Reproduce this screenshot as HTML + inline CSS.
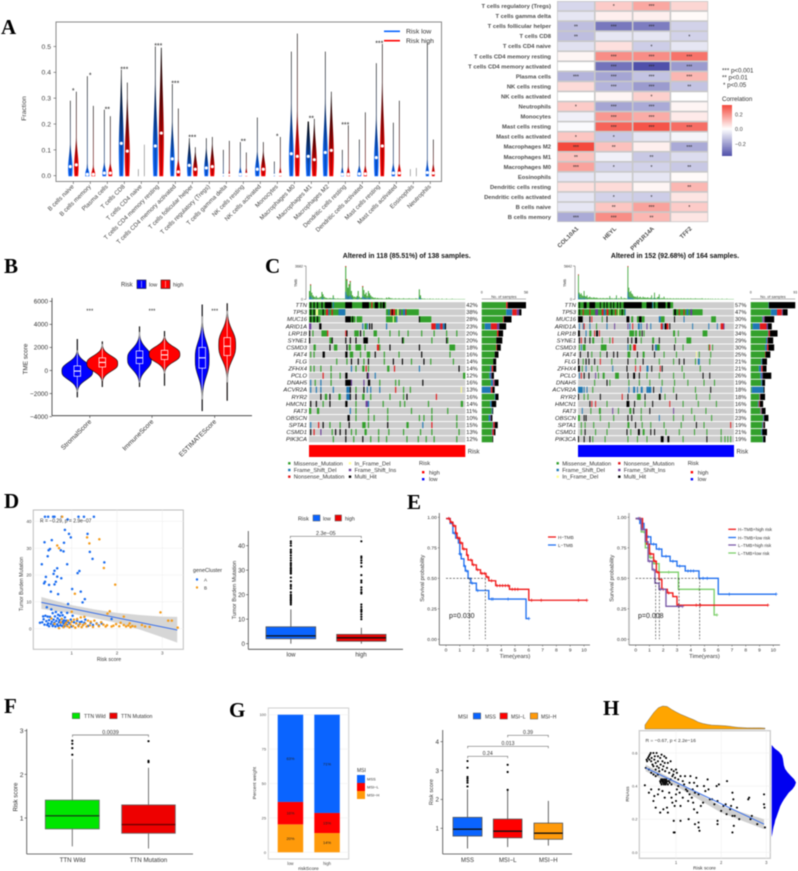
<!DOCTYPE html>
<html lang="en">
<head>
<meta charset="utf-8">
<title>Multi-panel immune and mutation figure</title>
<style>
html,body{margin:0;padding:0;background:#fff;width:798px;height:871px;overflow:hidden}
svg{display:block;font-family:"Liberation Sans",sans-serif;filter:blur(.5px)}
.letter{font-family:"Liberation Serif",serif;font-weight:bold;font-size:21px;fill:#000}
</style>
</head>
<body>
<svg id="fig" width="798" height="871" viewBox="0 0 798 871" xmlns="http://www.w3.org/2000/svg">
<defs>
<linearGradient id="gBlue" x1="0" y1="0" x2="0" y2="1"><stop offset="0" stop-color="#000"/><stop offset=".45" stop-color="#05337f"/><stop offset=".8" stop-color="#0a5fe8"/><stop offset="1" stop-color="#0a64ff"/></linearGradient>
<linearGradient id="gRed" x1="0" y1="0" x2="0" y2="1"><stop offset="0" stop-color="#000"/><stop offset=".45" stop-color="#7a0000"/><stop offset=".8" stop-color="#e00000"/><stop offset="1" stop-color="#ff0000"/></linearGradient>
<linearGradient id="gCorr" x1="0" y1="0" x2="0" y2="1"><stop offset="0" stop-color="#f44a3e"/><stop offset=".47" stop-color="#fff"/><stop offset="1" stop-color="#5050aa"/></linearGradient>
</defs>
<g id="pA"><text class="letter" x="1" y="34">A</text></g>
<g id="pA2"></g>
<g id="pB"><text class="letter" x="4" y="273">B</text></g>
<g id="pC"><text class="letter" x="265" y="273">C</text></g>
<g id="pD"><text class="letter" x="4" y="508">D</text></g>
<g id="pE"><text class="letter" x="407" y="509">E</text></g>
<g id="pF"><text class="letter" x="4" y="713">F</text></g>
<g id="pG"><text class="letter" x="229" y="717">G</text></g>
<g id="pH"><text class="letter" x="603" y="715">H</text></g>
</svg>
<script>
/* ---------- Panel A violin data ---------- */
const cellTypes=["B cells naive","B cells memory","Plasma cells","T cells CD8","T cells CD4 naive","T cells CD4 memory resting","T cells CD4 memory activated","T cells follicular helper","T cells regulatory (Tregs)","T cells gamma delta","NK cells resting","NK cells activated","Monocytes","Macrophages M0","Macrophages M1","Macrophages M2","Dendritic cells resting","Dendritic cells activated","Mast cells resting","Mast cells activated","Eosinophils","Neutrophils"];
const lowMax=[.29,.385,.255,.41,.025,.50,.355,.145,.145,.10,.13,.225,.055,.48,.21,.48,.10,.14,.435,.205,.025,.515];
const highMax=[.325,.27,.23,.36,.12,.495,.26,.11,.15,.135,.09,.13,.15,.55,.22,.325,.195,.245,.51,.29,.03,.14];
const lowMedian=[.035,.005,.01,.125,0,.115,.065,.04,.03,0,.005,.025,0,.085,.075,.09,.005,.007,.07,.01,0,.012];
const highMedian=[.042,.005,.01,.095,0,.165,.015,.025,.035,0,.005,.025,.005,.075,.062,.098,.005,.007,.115,.01,0,.01];
const lowDensity=[.9,.9,.8,1,.05,1,.9,.9,.85,.2,.6,.9,.2,.95,1,1,.6,.8,.9,.7,.05,.7];
const highDensity=[.9,.8,.8,1,.05,1,.8,.9,.9,.3,.4,.95,.5,.95,1,1,.7,.7,.9,.7,.05,.6];
const starLabels=["*","*","**","***","","***","***","***","","","**","","*","","**","","***","","***","","",""];
const fractionTicks=[0,.1,.2,.3,.4,.5];
/* ---------- Panel A heatmap data ---------- */
const heatRows=["T cells regulatory (Tregs)","T cells gamma delta","T cells follicular helper","T cells CD8","T cells CD4 naive","T cells CD4 memory resting","T cells CD4 memory activated","Plasma cells","NK cells resting","NK cells activated","Neutrophils","Monocytes","Mast cells resting","Mast cells activated","Macrophages M2","Macrophages M1","Macrophages M0","Eosinophils","Dendritic cells resting","Dendritic cells activated","B cells naive","B cells memory"];
const heatCols=["COL10A1","HEYL","PPP1R14A","TFF2"];
const heatValues=[[-.08,.1,.17,.08],[-.05,.03,.03,.01],[-.13,-.27,-.26,-.09],[-.13,-.05,-.05,-.09],[-.06,.06,-.1,-.05],[.02,.22,.22,.27],[0,-.28,-.35,-.2],[-.15,-.18,-.12,.14],[.07,-.15,-.2,-.12],[0,.02,.09,0],[.1,-.18,-.17,.02],[-.03,.2,.16,.04],[-.01,.3,.33,.28],[.11,-.11,-.05,-.02],[.35,.12,.03,-.17],[.12,-.03,-.11,-.07],[.18,-.09,-.09,-.11],[-.05,-.04,-.05,.01],[.06,.07,.02,.14],[-.05,-.09,-.1,.05],[-.05,.11,.18,.1],[-.17,.22,.14,.05]];
const heatStars=[["","*","***",""],["","","",""],["**","***","***",""],["**","","","*"],["","","*",""],["","***","***","***"],["","***","***","***"],["***","***","***","***"],["","***","***","**"],["","","*",""],["*","***","***",""],["","***","***",""],["","***","***","***"],["*","*","",""],["***","**","","***"],["**","","**",""],["***","*","*","**"],["","","",""],["","","","**"],["","*","*",""],["","**","***","*"],["***","***","**",""]];
/* ---------- Panel B data ---------- */
const scoreNames=["StromalScore","ImmuneScore","ESTIMATEScore"];
const tmeTicks=[-4000,-2000,0,2000,4000,6000];
const tmeLowStats=[[-2300,-500,-50,400,2700,-50,15.5],[-1400,600,1100,1700,3800,1000,12],[-3500,200,1100,2000,5700,1000,7]];
const tmeHighStats=[[-1400,300,700,1100,2500,600,15.5],[-1300,950,1350,1750,3400,1400,15.5],[-2600,1300,2100,2850,5800,2200,8.5]];
/* ---------- Panel C data ---------- */
const genes=["TTN","TP53","MUC16","ARID1A","LRP1B","SYNE1","CSMD3","FAT4","FLG","ZFHX4","PCLO","DNAH5","ACVR2A","RYR2","HMCN1","FAT3","OBSCN","SPTA1","CSMD1","PIK3CA"];
const leftPct=[42,38,28,23,20,20,18,16,14,14,12,16,13,16,14,11,10,15,13,12];
const rightPct=[57,47,30,27,34,29,30,25,21,21,26,19,18,18,16,19,23,19,21,19];
const leftBars=[[32,0,2,0,24],[32,8,6,3,3],[28,0,1,0,10],[4,8,8,3,9],[20,0,2,0,6],[19,0,0,0,8],[19,0,1,0,5],[17,0,0,0,5],[15,0,0,0,4],[11,2,2,0,4],[10,2,0,1,3],[12,3,1,1,5],[0,12,2,0,3],[17,1,0,0,4],[11,2,0,0,6],[13,1,0,0,1],[9,2,0,1,2],[14,1,2,0,4],[13,1,2,0,2],[14,0,0,0,1]];
const rightBars=[[37,1,0,0,55],[42,13,10,2,10],[24,2,1,2,20],[4,15,14,3,8],[36,1,3,0,16],[32,3,1,0,11],[30,4,3,0,12],[30,0,1,0,10],[22,2,0,0,10],[17,5,3,0,8],[20,3,0,2,18],[22,2,0,0,6],[2,25,0,0,2],[18,1,1,0,10],[15,2,2,0,7],[20,1,1,1,8],[26,1,0,1,9],[24,2,1,0,3],[22,2,0,0,10],[25,1,0,0,5]];
const leftTmb=[25,45,20,12,8,6,10,5,4,6,8,22,15,8,5,4,3,3,4,3,3,12,3,2,2,3,2,2,2,2,2,2,100,60,35,45,55,25,12,8,8,6,10,25,8,4,5,40,28,15,20,10,25,18,12,8,6,4,5,3,4,3,3,3,3,2,2,2,5,3,6,4,3,3,2,2,3,2,2,3,2,2,2,3,2,2,2,2,3,2,2,2,2,2,3,2,2,30,12,3,2,2,2,1,2,1,2,2,1,2,1,1,2,1,2,1,1,2,1,1,1,2,1,1,1,1,2,1,1,1,1,1,1,1,1,1,1,1];
const rightTmb=[75,20,15,18,12,10,25,10,8,12,5,6,8,5,5,4,6,5,4,5,4,3,3,4,3,3,4,3,3,3,4,3,3,10,3,3,3,2,3,3,12,2,3,3,2,8,3,2,4,3,3,2,100,35,22,25,18,15,10,8,8,6,10,5,6,8,5,4,8,5,6,4,5,6,4,4,5,12,3,4,20,4,3,6,8,15,3,3,4,3,8,3,2,3,3,2,3,3,2,2,3,2,2,3,2,3,2,2,3,2,2,3,2,2,2,3,2,2,3,2,2,2,2,3,2,2,2,2,2,2,3,2,1,2,2,1,2,2,1,2,1,2,1,1,2,1,1,2,1,1,1,2,1,1,1,1,2,1,1,1,1,1,1,1];
const leftMut=[
[[0,68,'m'],[1,1,'h'],[4,1,'h'],[7,1,'h'],[11,1,'h'],[14,6,'h'],[21,1,'f'],[32,6,'h'],[47,6,'h'],[55,1,'n'],[58,3,'h'],[63,1,'h'],[65,2,'h']],
[[0,32,'m'],[1,1,'h'],[4,1,'h'],[6,2,'d'],[12,1,'h'],[15,2,'n'],[17,1,'f'],[20,1,'n'],[26,6,'f'],[68,29,'m'],[70,1,'f'],[72,4,'n'],[73,1,'h'],[78,1,'d'],[80,1,'i'],[83,2,'f'],[85,1,'n']],
[[0,10,'m'],[1,1,'h'],[4,1,'h'],[7,1,'h'],[32,5,'h'],[37,4,'m'],[38,1,'h'],[42,5,'m'],[68,9,'m'],[74,1,'d'],[77,1,'f'],[97,1,'h'],[98,10,'m']],
[[0,2,'i'],[9,2,'h'],[47,1,'f'],[49,2,'m'],[51,1,'f'],[53,1,'h'],[55,1,'h'],[68,1,'f'],[108,4,'n'],[112,3,'f'],[115,1,'i'],[116,2,'n'],[118,2,'f'],[120,1,'h']],
[[0,1,'h'],[3,1,'m'],[11,5,'m'],[16,1,'n'],[32,1,'n'],[33,1,'h'],[40,4,'m'],[45,1,'h'],[48,1,'m'],[57,3,'m'],[71,1,'m'],[79,1,'m'],[87,1,'m'],[99,1,'m'],[110,1,'m'],[121,1,'m'],[130,1,'m']],
[[0,1,'h'],[18,2,'m'],[20,1,'h'],[32,1,'h'],[36,1,'h'],[41,1,'h'],[48,4,'h'],[61,1,'m'],[82,1,'h'],[83,1,'m'],[108,1,'m'],[121,1,'h'],[122,1,'m']],
[[4,2,'m'],[18,1,'h'],[22,3,'m'],[33,1,'h'],[35,2,'m'],[41,5,'m'],[49,1,'m'],[60,2,'n'],[62,1,'m'],[71,1,'h'],[97,1,'h'],[124,5,'m']],
[[1,1,'m'],[4,1,'m'],[12,2,'h'],[32,2,'h'],[36,3,'m'],[45,1,'m'],[51,3,'m'],[58,1,'h'],[66,1,'m'],[79,1,'m'],[99,1,'h'],[124,1,'m']],
[[24,1,'m'],[33,1,'m'],[37,1,'h'],[43,1,'h'],[48,1,'m'],[52,1,'h'],[66,1,'m'],[74,1,'h'],[82,1,'h'],[90,1,'m'],[101,1,'h'],[107,1,'m'],[127,1,'m']],
[[1,1,'m'],[4,1,'m'],[10,1,'m'],[19,1,'m'],[37,1,'f'],[41,1,'m'],[47,2,'m'],[50,1,'n'],[52,1,'m'],[69,2,'m'],[75,1,'n'],[97,1,'f'],[132,1,'h']],
[[12,1,'n'],[19,1,'m'],[27,1,'m'],[32,2,'h'],[51,1,'h'],[52,1,'i'],[58,1,'f'],[136,2,'m']],
[[1,1,'f'],[5,1,'m'],[10,1,'f'],[19,1,'m'],[32,5,'h'],[37,1,'i'],[48,1,'i'],[52,2,'h'],[62,1,'m'],[76,1,'m'],[79,1,'m'],[100,1,'h']],
[[1,1,'f'],[6,1,'f'],[10,1,'f'],[21,1,'f'],[33,3,'f'],[36,1,'h'],[41,1,'m'],[48,1,'h'],[51,1,'f'],[54,1,'f'],[62,1,'f'],[76,1,'n'],[83,1,'m'],[89,1,'m'],[134,1,'d']],
[[10,1,'h'],[14,2,'m'],[18,1,'h'],[26,2,'m'],[33,3,'f'],[36,1,'h'],[41,1,'h'],[47,2,'m'],[54,1,'m'],[71,1,'m'],[83,1,'m'],[86,1,'h'],[112,1,'n']],
[[1,1,'h'],[6,1,'h'],[12,1,'m'],[18,1,'h'],[32,2,'h'],[41,1,'m'],[50,2,'i'],[52,1,'f'],[65,1,'m'],[80,1,'m'],[84,1,'m'],[105,1,'m'],[134,2,'m']],
[[0,2,'m'],[7,2,'m'],[36,1,'f'],[41,1,'m'],[52,1,'m'],[69,1,'m'],[90,1,'m'],[108,1,'m'],[122,1,'m']],
[[34,2,'h'],[41,1,'m'],[52,1,'m'],[57,1,'m'],[69,1,'m'],[97,1,'m'],[101,1,'m'],[108,1,'m'],[130,1,'m']],
[[1,1,'f'],[8,1,'n'],[12,1,'h'],[18,1,'m'],[27,1,'m'],[35,1,'h'],[47,3,'m'],[52,1,'m'],[69,1,'h'],[86,2,'m'],[100,1,'f'],[108,1,'n'],[130,1,'m']],
[[1,1,'h'],[4,1,'n'],[10,1,'i'],[20,1,'m'],[23,1,'h'],[27,1,'h'],[32,1,'h'],[37,1,'m'],[41,1,'m'],[49,2,'m'],[61,1,'m'],[70,1,'m'],[83,1,'m'],[98,1,'m'],[108,1,'m'],[132,1,'m']],
[[21,1,'m'],[32,1,'h'],[39,1,'m'],[47,1,'h'],[54,1,'m'],[61,1,'m'],[68,1,'m'],[86,1,'m'],[96,1,'m'],[103,1,'m'],[110,1,'m'],[130,1,'m']]];
const rightMut=[
[[0,100,'m'],[1,1,'h'],[6,3,'h'],[12,6,'h'],[23,1,'h'],[27,1,'h'],[30,1,'h'],[34,1,'h'],[37,1,'h'],[41,1,'h'],[44,1,'h'],[48,19,'h'],[72,6,'h'],[80,1,'h'],[78,1,'f'],[84,8,'h'],[94,3,'h']],
[[0,50,'m'],[1,1,'h'],[5,1,'n'],[12,1,'n'],[18,3,'i'],[25,2,'n'],[27,2,'f'],[30,2,'n'],[35,1,'h'],[39,1,'n'],[42,1,'d'],[46,1,'h'],[49,1,'f'],[100,31,'m'],[101,2,'h'],[106,1,'n'],[111,1,'n'],[114,2,'f'],[118,2,'i']],
[[0,5,'h'],[12,1,'h'],[14,1,'n'],[25,1,'m'],[30,1,'h'],[51,3,'h'],[56,2,'m'],[62,2,'m'],[64,3,'h'],[67,3,'m'],[85,2,'f'],[87,4,'m'],[101,1,'h'],[111,1,'f'],[140,5,'m']],
[[1,1,'f'],[5,1,'f'],[6,1,'n'],[12,1,'f'],[19,1,'m'],[30,1,'f'],[38,1,'i'],[52,1,'i'],[54,1,'f'],[57,1,'n'],[63,2,'f'],[66,1,'f'],[72,1,'i'],[76,1,'f'],[87,2,'n'],[89,1,'f'],[91,2,'h'],[93,2,'n'],[96,1,'h'],[120,1,'f'],[137,1,'f'],[146,1,'f'],[150,3,'n'],[153,1,'i']],
[[0,2,'h'],[8,1,'f'],[12,2,'m'],[17,1,'n'],[19,2,'h'],[22,1,'n'],[54,5,'m'],[60,2,'m'],[64,2,'m'],[67,1,'h'],[69,1,'m'],[100,2,'m'],[105,1,'m'],[131,5,'m']],
[[1,1,'h'],[3,1,'n'],[7,1,'h'],[12,1,'h'],[15,2,'m'],[25,1,'m'],[33,1,'m'],[36,1,'n'],[52,1,'h'],[56,1,'h'],[60,2,'h'],[66,1,'m'],[78,2,'m'],[85,1,'h'],[102,1,'m'],[114,5,'m']],
[[1,1,'m'],[3,1,'f'],[5,3,'m'],[24,6,'m'],[52,1,'f'],[54,2,'m'],[58,3,'n'],[78,1,'h'],[81,2,'f'],[83,3,'m'],[101,1,'h'],[110,1,'m'],[137,1,'m'],[138,1,'n'],[141,1,'m']],
[[2,1,'h'],[10,1,'h'],[14,1,'m'],[23,1,'m'],[30,1,'h'],[37,1,'h'],[41,1,'h'],[52,3,'m'],[62,1,'h'],[68,2,'m'],[80,1,'h'],[90,1,'m'],[103,1,'m'],[124,1,'d'],[127,1,'m'],[139,1,'m']],
[[0,1,'h'],[5,1,'m'],[8,1,'h'],[11,1,'h'],[17,1,'h'],[23,1,'n'],[35,1,'m'],[52,1,'h'],[60,1,'m'],[68,1,'h'],[85,1,'m'],[100,1,'m'],[106,1,'h'],[111,1,'h'],[123,1,'m'],[126,2,'f'],[138,1,'m']],
[[0,2,'h'],[4,1,'m'],[8,1,'f'],[14,1,'m'],[20,1,'m'],[36,1,'f'],[51,1,'h'],[60,1,'n'],[65,1,'n'],[72,2,'f'],[77,1,'h'],[86,1,'n'],[88,1,'h'],[109,1,'m'],[128,1,'m']],
[[1,1,'f'],[3,1,'n'],[6,1,'h'],[11,1,'h'],[18,1,'i'],[21,1,'m'],[26,2,'m'],[39,4,'m'],[52,1,'h'],[58,2,'h'],[64,1,'h'],[72,1,'m'],[85,1,'m'],[100,1,'m'],[111,1,'m'],[131,1,'h'],[138,1,'h']],
[[17,1,'m'],[30,1,'h'],[33,1,'m'],[53,1,'m'],[64,1,'m'],[75,1,'m'],[88,1,'m'],[101,1,'m'],[115,1,'m'],[132,1,'m'],[143,1,'m']],
[[0,5,'f'],[6,1,'f'],[9,1,'f'],[15,1,'m'],[53,1,'f'],[58,2,'f'],[62,1,'f'],[66,2,'f'],[72,2,'f'],[74,3,'f'],[79,1,'h'],[87,1,'f'],[100,1,'m'],[123,1,'m'],[139,1,'h']],
[[0,1,'h'],[6,1,'m'],[10,1,'m'],[23,1,'h'],[46,1,'n'],[52,1,'h'],[62,4,'m'],[70,1,'h'],[85,2,'h'],[91,1,'m'],[103,1,'h'],[124,1,'m'],[138,1,'m']],
[[12,1,'h'],[14,1,'n'],[18,1,'n'],[30,1,'m'],[51,3,'h'],[59,1,'h'],[70,1,'m'],[78,1,'h'],[96,1,'n'],[110,1,'m'],[126,1,'m'],[145,1,'m']],
[[4,1,'f'],[13,1,'m'],[22,2,'m'],[36,1,'i'],[42,1,'m'],[54,2,'m'],[58,1,'h'],[66,1,'m'],[75,1,'h'],[100,1,'i'],[119,1,'m'],[134,1,'m']],
[[0,2,'m'],[6,1,'h'],[8,1,'h'],[23,1,'m'],[37,1,'m'],[52,1,'h'],[56,1,'h'],[66,1,'m'],[85,1,'f'],[100,1,'m'],[110,1,'m'],[122,1,'m'],[140,1,'m']],
[[3,1,'m'],[7,1,'m'],[16,1,'m'],[32,1,'m'],[52,2,'m'],[60,1,'h'],[67,1,'m'],[76,1,'m'],[90,1,'m'],[108,1,'m'],[124,1,'h'],[132,1,'m'],[160,1,'n']],
[[3,1,'m'],[7,1,'h'],[18,1,'m'],[30,1,'m'],[51,1,'h'],[55,1,'m'],[63,2,'h'],[68,2,'m'],[76,1,'h'],[80,1,'h'],[92,1,'m'],[106,1,'m'],[122,1,'m'],[135,1,'m'],[150,1,'m']],
[[0,1,'h'],[6,1,'h'],[12,1,'h'],[15,1,'m'],[28,1,'m'],[52,1,'m'],[62,1,'m'],[72,1,'m'],[87,3,'h'],[94,2,'h'],[110,1,'m'],[135,1,'h'],[150,1,'m'],[154,1,'m'],[157,1,'m'],[160,1,'m']]];
/* ---------- Panel D data ---------- */
const tmbBlue=[[.41,41.7],[.48,41.7],[.59,41.7],[.62,41.7],[.78,41.7],[1.15,41.7],[1.27,41.7],[1.49,41.7],[.91,40.7],[.85,36.8],[.94,35.3],[.98,34],[1.35,35.3],[.4,32.2],[.56,33],[.83,32],[.52,29.7],[.49,29.2],[.47,27],[.76,29.2],[.82,28.8],[1.4,28.6],[1.46,26],[.34,24],[.9,24],[1.72,24.7],[.68,22.5],[.62,21.6],[1.17,21.5],[1.13,20.7],[.6,20.4],[.68,19.4],[.43,19.3],[.77,18.8],[.41,17.5],[.39,16.9],[.65,17.5],[.62,16.5],[.5,16.3],[.54,13.8],[1.01,14.8],[1.2,13.8],[.7,12.9],[1.29,11],[1.24,9.8],[.92,9.2],[.45,8],
[.3,2.2],[.35,2.4],[.38,3.5],[.4,1.5],[.42,4.8],[.44,2.8],[.46,1.4],[.48,2],[.5,3.2],[.5,.9],[.52,4.4],[.54,1.8],[.56,2.6],[.58,1],[.58,5.8],[.6,3.4],[.6,1.6],[.62,2.2],[.63,4.6],[.64,.8],[.65,6.2],[.66,2.9],[.68,1.6],[.69,3.9],[.7,5.2],[.7,1],[.72,2.4],[.73,3.2],[.74,4.8],[.75,1.3],[.76,2.2],[.77,6],[.78,3.6],[.79,1],[.8,2.6],[.8,5],[.82,1.9],[.83,3.1],[.84,.9],[.85,4.2],[.86,2.3],[.88,3],[.9,1.4],[.9,5.9],[.92,2.6],[.95,2],[.98,3.4],[1,.8],[1.02,4.8],[1.05,2.4],[1.1,2],[1.12,3],[1.15,1.2],[1.18,2.4],[1.22,2.6],[1.25,1.4],[1.28,2.2],[1.3,3.4],[1.36,1],[1.42,2.2],[1.47,1.4],[1.55,2],[1.6,1.2],[1.66,2],[1.88,3.6],[.55,7.2],[.47,4.5],[.37,4.6]];
const tmbOrange=[[.79,41.7],[.68,31],[.72,30],[1.34,34],[1.39,31.8],[1.61,33.3],[1.71,22.6],[1.96,16.4],[1.07,13],[1.84,6.5],[1.79,5.6],[2.96,6.1],[3.13,3],[3.21,3],[3.34,.4],[2.15,4.5],
[.55,3.8],[.62,1.8],[.72,.2],[.76,2.4],[.78,3.6],[.82,.6],[.85,1.5],[.88,2.2],[.9,.9],[.92,3],[.95,.5],[.97,1.6],[1,2.6],[1,6.3],[1.03,1],[1.05,3.4],[1.08,.4],[1.1,2],[1.12,3.6],[1.15,.9],[1.18,1.8],[1.2,4.2],[1.22,.6],[1.25,1.4],[1.28,4.4],[1.3,1.9],[1.33,.8],[1.36,3],[1.4,1.3],[1.42,2.6],[1.47,.7],[1.5,3],[1.55,1.8],[1.6,.9],[1.65,2.4],[1.7,1.5],[1.75,.8],[1.78,1.3],[1.88,.8],[1.92,1.1],[1.98,1.7],[2.05,.9],[2.08,2.2],[2.15,1.4],[2.2,.8],[2.25,1.2],[2.28,2],[2.3,.6],[2.34,1],[2.4,.8],[2.55,1.4],[2.62,.8],[2.72,.7]];
const tmbRegX=[.33,3.33];
const tmbRegY=[9.8,-.5];
const tmbBandX=[.33,1,1.5,2,2.5,3,3.33];
const tmbBandHigh=[11.8,8.8,7.2,5.9,5.1,4.5,4.4];
const tmbBandLow=[7.4,5.6,4,2.1,-.3,-3.2,-5.2];
const boxTmbLow=[0,2,3.2,6.9,14];
const boxTmbHigh=[0,1,2.4,3.8,6.5];
const tmbOutLow=[16,16.6,17,17.6,18,18.5,19,19.6,20,21,22.5,23.4,24,25.5,27,28.6,29,29.6,30,30.6,31,31.8,32.5,33,34,35,36,37,37.6,38.4,40,41,41.8];
const tmbOutHigh=[10,11,12,13,13.5,14,15,16,20.5,21,22,23,25,25.8,28,31.5,33,34,35,35.6,41.8];
/* ---------- Panel E data ---------- */
const kmTicks=[0,.25,.5,.75,1];
const yearTicks=[0,1,2,3,4,5,6,7,8,9,10];
const hTmbTime=[0,.3,.5,.7,.8,1,1.2,1.5,1.6,1.9,2.2,2.5,2.9,3.1,3.6,4.6,6,10.2];
const hTmbSurv=[.99,.96,.93,.87,.83,.79,.74,.69,.65,.61,.57,.54,.51,.48,.44,.41,.32,.32];
const lTmbTime=[0,.3,.5,.7,.9,1,1.1,1.3,1.4,1.6,1.8,2.2,3.1,5.8,6];
const lTmbSurv=[.99,.95,.87,.83,.79,.70,.66,.6,.56,.5,.46,.4,.33,.17,.17];
const hHighTime=[0,.5,.8,1,1.3,1.5,1.7,1.9,2.3,2.7,3,9.6];
const hHighSurv=[.99,.9,.78,.7,.64,.55,.49,.41,.38,.35,.28,.28];
const hLowTime=[0,.3,.6,.8,1.1,1.5,1.9,2.5,3,3.6,4.6,6,10.2];
const hLowSurv=[.99,.95,.9,.84,.78,.74,.68,.64,.6,.56,.5,.37,.37];
const lHighTime=[0,.4,.7,.9,1.2,1.4,1.7,2.2,3.4];
const lHighSurv=[.99,.9,.8,.64,.57,.46,.41,.27,.27];
const lLowTime=[0,.4,.7,1,1.3,1.7,3.1,5.7,5.9];
const lLowSurv=[.99,.88,.75,.67,.62,.55,.41,.2,.2];
const hTmbCensor=[.2,.4,.6,.75,.85,.95,1.1,1.3,1.55,1.8,2,2.3,2.6,2.8,3,3.3,3.7,3.9,4.1,4.3,4.5,4.8,5,5.2,6.2,6.9,9.6,10.2];
const lTmbCensor=[.2,.45,.6,1,1.05,1.35,1.5,1.9,2.3,3.3,3.4,4.5,6];
const hHighCensor=[.3,.9,1.1,1.4,1.6,2,2.4,3.1,4.4,4.7,9.6];
const hLowCensor=[.2,.5,.9,1.3,1.7,2.2,2.7,3.2,3.8,4,4.2,4.9,5.2,6.8,10.2];
const lHighCensor=[.5,1,1.3,1.8,3.1,3.4];
const lLowCensor=[.6,1.1,1.5,2.4,4.6,5.9];
/* ---------- Panels F, G data ---------- */
const riskTicks=[1,2,3];
const boxWild=[.35,.75,1.05,1.41,2.35];
const boxMutation=[.3,.65,.85,1.3,2.15];
const wildOut=[2.45,2.6,2.7,2.77];
const mutationOut=[2.28,2.31,2.76];
const msiGroups=["low","high"];
const msiH=[20.3,14];
const msiL=[16.3,14.6];
const msiS=[63.4,71.4];
const percentTicks=[0,25,50,75,100];
const boxMss=[.3,.73,.97,1.38,2.35];
const boxMsiL=[.35,.67,.9,1.32,2.3];
const boxMsiH=[.4,.62,.83,1.18,1.95];
const mssOut=[2.45,2.58,2.65,2.72,2.78,3.1,3.33];
const msiLOut=[2.33,2.95,3.2];
const msiRiskTicks=[1,2,3,4];
/* ---------- Panel H data ---------- */
const rnaPoints=[[.31,.405],[.35,.56],[.36,.55],[.38,.57],[.4,.58],[.41,.56],[.42,.59],[.44,.6],[.45,.55],[.46,.57],[.48,.53],[.5,.6],[.5,.52],[.52,.56],[.53,.58],[.55,.54],[.55,.5],[.57,.6],[.58,.52],[.6,.55],[.6,.58],[.62,.51],[.63,.49],[.65,.57],[.66,.53],[.68,.59],[.7,.5],[.7,.55],[.72,.52],[.74,.58],[.75,.54],[.76,.49],[.78,.57],[.8,.51],[.82,.54],[.85,.48],[.88,.55],[.9,.5],[.95,.49],[1,.5],[1.02,.48],[.33,.51],[.4,.5],[.45,.48],[.5,.47],[.55,.46],[.6,.47],
[.65,.43],[.66,.42],[.67,.44],[.68,.41],[.69,.43],[.7,.44],[.71,.42],[.72,.43],[.73,.41],[.74,.44],[.75,.42],[.76,.43],[.77,.41],[.78,.44],[.79,.42],[.8,.43],[.82,.41],[.84,.43],[.86,.42],[.88,.44],[.9,.41],[.92,.46],[.94,.47],[.98,.45],[1.05,.44],[1.1,.46],
[.4,.36],[.45,.38],[.5,.31],[.52,.34],[.55,.27],[.6,.35],[.62,.38],[.65,.24],[.7,.37],[.72,.26],[.75,.33],[.8,.27],[.82,.24],[.85,.36],[.9,.33],[.92,.3],[.95,.19],[.95,.12],[.97,.12],[.97,.28],[1,.31],[1,.35],[1.02,.38],[1.05,.4],[1.08,.36],[1.1,.28],[1.1,.19],[1.15,.33],[1.15,.43],[1.18,.41],[1.2,.46],[1.22,.38],[1.25,.37],[1.27,.31],[1.28,.2],[1.3,.35],[1.3,.42],[1.32,.46],[1.35,.33],[1.37,.38],[1.38,.3],[1.4,.42],[1.4,.26],[1.42,.36],[1.42,.17],[1.45,.45],[1.47,.4],[1.47,.24],[1.5,.35],[1.5,.15],[1.5,.18],[1.52,.13],[1.55,.28],[1.6,.3],[1.62,.4],[1.65,.37],[1.7,.44],[1.72,.38],[1.75,.32],[1.8,.32],[1.85,.29],[1.9,.4],[1.92,.31],[1.92,.19],[1.92,.17],[1.95,.41],[2,.25],[2.05,.28],[2.1,.29],[2.12,.23],[2.13,.43],[2.2,.26],[2.22,.28],[2.25,.36],[2.25,.12],[2.25,.22],[2.27,.32],[2.28,.16],[2.3,.22],[2.35,.27],[2.4,.2],[2.6,.32],[2.62,.33],[2.65,.2],[2.68,.22],[2.8,.17],[2.95,.35],[2.95,.29],[2.96,.27],[2.97,.15]];
const rnaRegX=[.33,2.95];
const rnaRegY=[.51,.17];
const rnaBandX=[.33,1,2,2.95];
const rnaBandHigh=[.53,.43,.28,.2];
const rnaBandLow=[.49,.4,.24,.14];
const riskDensity=[.18,.45,.72,.92,1,.98,.85,.74,.64,.56,.48,.4,.3,.24,.2,.17,.16,.15,.14,.12,.09,.07,.06,.05,.05,.05,.05,.04];
const rnaDensity=[0,.12,.3,.42,.46,.48,.5,.55,.65,.78,.92,1,.95,.85,.7,.6,.5,.42,.35,.3,.25,.2,.15,.12,.08,.05,.03,0];

/* ---------- helpers ---------- */
const NS='http://www.w3.org/2000/svg';
function S(parent,name,tag,attrs,text){
  const el=document.createElementNS(NS,tag);
  for(const k in attrs) el.setAttribute(k,attrs[k]);
  if(text!==undefined) el.textContent=text;
  
  
  parent.appendChild(el);
  return el;
}
function T(parent,name,x,y,str,size,opt){
  opt=opt||{};
  const a={x:x,y:y,'font-size':size,fill:opt.fill||'#4d4d4d','text-anchor':opt.anchor||'start'};
  if(opt.rot!==undefined) a.transform='rotate('+opt.rot+' '+x+' '+y+')';
  if(opt.bold) a['font-weight']='bold';
  if(opt.italic) a['font-style']='italic';
  return S(parent,name,'text',a,str);
}
function L(parent,name,x1,y1,x2,y2,col,w,dash){
  const a={x1:x1,y1:y1,x2:x2,y2:y2,stroke:col||'#333','stroke-width':w||.7};
  if(dash) a['stroke-dasharray']=dash;
  return S(parent,name,'line',a);
}
function R(parent,name,x,y,w,h,fill,stroke,sw){
  const a={x:x,y:y,width:w,height:h,fill:fill||'none'};
  if(stroke){a.stroke=stroke;a['stroke-width']=sw||.7;}
  return S(parent,name,'rect',a);
}
function lin(d0,d1,r0,r1){return function(v){return r0+(v-d0)*(r1-r0)/(d1-d0);};}
const $=function(id){return document.getElementById(id);};

/* ---------- Panel A violin ---------- */
(function(){
  const g=$('pA');
  const y=lin(0,.5,175.7,46.5);
  R(g,'violin-plot-frame',56,22,385.5,159.5,'#fff','#8a8a8a',1);
  fractionTicks.forEach(function(t){
    L(g,'fraction-tick',53.5,y(t),56,y(t),'#555',.6);
    T(g,'fraction-tick-label',51,y(t)+2.4,t.toFixed(1),6.8,{anchor:'end',fill:'#444'});
  });
  T(g,'fraction-axis-title',26,y(.26),'Fraction',6.8,{anchor:'middle',rot:-90,fill:'#444'});
  function violin(cx,max,med,den,grad,name){
    const hw=2.5*den, mode=med*.8, s=Math.max(.016,med*1.05+.01), n=24, pts=[];
    for(let i=0;i<=n;i++){
      const v=-.002+(max+.002)*i/n;
      let w=hw*Math.exp(-Math.pow(v-mode,2)/(2*s*s));
      w=Math.max(w,.3);
      pts.push([cx-w,y(v)]);
    }
    const back=pts.slice().reverse().map(function(p){return [2*cx-p[0],p[1]];});
    S(g,name,'polygon',{points:pts.concat(back).map(function(p){return p[0].toFixed(2)+','+p[1].toFixed(2);}).join(' '),fill:den<.1?'#777':'url(#'+grad+')'});
    L(g,name+'-centre-line',cx,y(max),cx,y(0),den<.1?'#888':'#111',.35);
    if(med>.001){S(g,name+'-median','circle',{cx:cx,cy:y(med),r:1.6,fill:'#fff'});}
    else if(den>.1){S(g,name+'-median','circle',{cx:cx,cy:y(.004),r:1.1,fill:'#fff'});}
  }
  cellTypes.forEach(function(c,i){
    const xl=70.3+17*i, xh=xl+6;
    violin(xl,lowMax[i],lowMedian[i],lowDensity[i],'gBlue','violin-low');
    violin(xh,highMax[i],highMedian[i],highDensity[i],'gRed','violin-high');
    L(g,'category-tick',xl+3,181.5,xl+3,184,'#555',.6);
    T(g,'category-label',xl+4,187,c,6.1,{anchor:'end',rot:-45,fill:'#444'});
    if(starLabels[i]) T(g,'significance-stars',xl+3,y(Math.max(lowMax[i],highMax[i]))+1.5,starLabels[i],7,{anchor:'middle',fill:'#222'});
  });
  L(g,'legend-risk-low-line',384,31.3,400,31.3,'#0a64ff',1.6);
  T(g,'legend-risk-low-label',406,33.6,'Risk low',6.8,{fill:'#333'});
  L(g,'legend-risk-high-line',384,40.7,400,40.7,'#ff0000',1.6);
  T(g,'legend-risk-high-label',406,43,'Risk high',6.8,{fill:'#333'});
})();

/* ---------- Panel A heatmap ---------- */
(function(){
  const g=$('pA2');
  const x0=557,y0=1,cw=37.8,rh=10.05;
  function col(v){
    const t=Math.min(1,Math.abs(v)/.35);
    const c=v>=0?[244,74,62]:[80,80,170];
    return 'rgb('+c.map(function(q){return Math.round(255+(q-255)*t);}).join(',')+')';
  }
  R(g,'heatmap-background',x0,y0,cw*4,rh*22,'#c8c8c8');
  heatRows.forEach(function(name,r){
    T(g,'heatmap-row-label',551,y0+rh*r+7,name,5.85,{anchor:'end',bold:true,fill:'#4d4d4d'});
    heatCols.forEach(function(c,j){
      R(g,'heatmap-cell',x0+cw*j+.8,y0+rh*r+.8,cw-1.6,rh-1.6,col(heatValues[r][j]));
      if(heatStars[r][j]) T(g,'heatmap-stars',x0+cw*j+cw/2,y0+rh*r+7.2,heatStars[r][j],5,{anchor:'middle',fill:'#222'});
    });
  });
  heatCols.forEach(function(c,j){
    T(g,'heatmap-column-label',x0+cw*j+cw/2+3,229,c,6,{anchor:'end',rot:-45,bold:true,fill:'#4d4d4d'});
  });
  T(g,'pvalue-legend-3-stars',722,72.5,'***  p<0.001',6.2,{fill:'#333'});
  T(g,'pvalue-legend-2-stars',722,79.5,'**  p<0.01',6.2,{fill:'#333'});
  T(g,'pvalue-legend-1-star',723,87,'*  p<0.05',6.2,{fill:'#333'});
  T(g,'correlation-legend-title',722,101,'Correlation',6.2,{fill:'#333'});
  R(g,'correlation-colorbar',722,105,10,51,'url(#gCorr)');
  [[.2,114.5],[0,129],[-.2,144]].forEach(function(p){
    T(g,'correlation-tick-label',735,p[1]+2,p[0]===0?'0.0':(p[0]<0?'\u22120.2':'0.2'),5.5,{fill:'#444'});
  });
})();

/* ---------- Panel B ---------- */
(function(){
  const g=$('pB');
  const y=lin(0,6000,370.5,301.3);
  L(g,'tme-y-axis',52,298,52,415.7,'#333',.8);
  L(g,'tme-x-axis',52,415.7,252,415.7,'#333',.8);
  tmeTicks.forEach(function(t){
    L(g,'tme-y-tick',49.5,y(t),52,y(t),'#333',.6);
    T(g,'tme-y-tick-label',48,y(t)+2.3,String(t).replace('-','\u2212'),6.4,{anchor:'end',fill:'#333'});
  });
  T(g,'tme-y-axis-title',27.5,y(1000),'TME score',6.4,{anchor:'middle',rot:-90,fill:'#333'});
  function vio(cx,st,fill,name){
    const mn=st[0],q1=st[1],med=st[2],q3=st[3],mx=st[4],mode=st[5],hw=st[6];
    const s=(q3-q1)*.62, n=30, L1=[];
    for(let i=0;i<=n;i++){
      const v=mn+(mx-mn)*i/n;
      const w=hw*Math.min(1,Math.exp(-Math.pow(Math.max(0,Math.abs(v-mode)-s*.35),2)/(2*s*s)))*(1-.04*Math.abs(v-mode)/s);
      L1.push([cx-Math.max(w,.3),y(v)]);
    }
    const back=L1.slice().reverse().map(function(p){return [2*cx-p[0],p[1]];});
    S(g,name,'polygon',{points:L1.concat(back).map(function(p){return p[0].toFixed(2)+','+p[1].toFixed(2);}).join(' '),fill:fill,stroke:'#111','stroke-width':.6});
    const bw=3.3;
    L(g,name+'-whisker',cx,y(Math.max(mn,q1-(q3-q1)*1.5)),cx,y(Math.min(mx,q3+(q3-q1)*1.5)),'#fff',.6);
    R(g,name+'-box',cx-bw,y(q3),bw*2,y(q1)-y(q3),fill,'#fff',.7);
    L(g,name+'-median',cx-bw,y(med),cx+bw,y(med),'#fff',1.1);
  }
  const centres=[89.8,152,214.7];
  scoreNames.forEach(function(nm,i){
    vio(centres[i]-12.5,tmeLowStats[i],'#0000ff','tme-violin-low');
    vio(centres[i]+12.5,tmeHighStats[i],'#ff0000','tme-violin-high');
    T(g,'tme-significance',centres[i],313,'***',6,{anchor:'middle',fill:'#333'});
    L(g,'tme-x-tick',centres[i],415.7,centres[i],418,'#333',.6);
    T(g,'tme-x-label',centres[i]+2,422,nm,6.6,{anchor:'end',rot:-45,fill:'#333'});
  });
  T(g,'tme-legend-title',121,286.5,'Risk',6,{fill:'#333'});
  R(g,'tme-legend-low',137,280,9,8.5,'#0000ff','#222',.6);
  L(g,'tme-legend-low-box',141.5,281,141.5,287.5,'#fff',.5);
  T(g,'tme-legend-low-label',149,286.5,'low',5.5,{fill:'#333'});
  R(g,'tme-legend-high',161,280,9,8.5,'#ff0000','#222',.6);
  L(g,'tme-legend-high-box',165.5,281,165.5,287.5,'#fff',.5);
  T(g,'tme-legend-high-label',173,286.5,'high',5.5,{fill:'#333'});
})();

/* ---------- Panel C ---------- */
(function(){
  const g=$('pC');
  const colors={m:'#33a02c',f:'#1f78b4',n:'#e31a1c',i:'#6a3d9a',d:'#ffff99',h:'#000000'};
  const barColors=['#33a02c','#1f78b4','#e31a1c','#6a3d9a','#000000'];
  function onco(cfg){
    const gx=cfg.x0, gw=cfg.x1-cfg.x0, rh=7.05, top=301.7, N=cfg.samples, sw=gw/N;
    const sp=function(s){return gx+s*sw;};
    T(g,'oncoplot-title',cfg.titleX,258,cfg.title,6.9,{anchor:'middle',bold:true,fill:'#111'});
    const tm=lin(0,100,299.3,266);
    L(g,'tmb-axis',gx-3,266,gx-3,299.3,'#555',.5);
    L(g,'tmb-axis-top-tick',gx-5,266,gx-3,266,'#555',.5);
    L(g,'tmb-axis-bottom-tick',gx-5,299.3,gx-3,299.3,'#555',.5);
    T(g,'tmb-max-label',gx-6,267.5,cfg.tmbMax,3.6,{anchor:'end',fill:'#333'});
    T(g,'tmb-min-label',gx-6,300.5,'0',3.6,{anchor:'end',fill:'#333'});
    T(g,'tmb-axis-title',gx-12,283,'TMB',3.8,{anchor:'middle',rot:-90,fill:'#333'});
    cfg.tmb.forEach(function(v,i){
      R(g,'tmb-bar-missense',sp(i),tm(v),sw*.85,tm(0)-tm(v),'#33a02c');
      if(v>8) R(g,'tmb-bar-frameshift',sp(i),tm(v*.22),sw*.85,tm(0)-tm(v*.22),'#1f78b4');
      if(v>35) R(g,'tmb-bar-nonsense',sp(i),tm(v),sw*.85,1,'#e31a1c');
    });
    genes.forEach(function(gene,r){
      const yy=top+rh*r;
      R(g,'oncoplot-row-background',gx,yy+.45,gw,rh-.9,'#cdcdcd');
      cfg.mut[r].forEach(function(m){
        R(g,'mutation-mark',sp(m[0]),yy+.45,Math.max(m[1]*sw,.9),rh-.9,colors[m[2]]);
      });
      T(g,'gene-label',gx-2,yy+5.4,gene,5.9,{anchor:'end',italic:true,fill:'#222'});
      T(g,'gene-percent-label',cfg.x1+1,yy+5.4,cfg.pct[r]+'%',5.7,{fill:'#222'});
      let cx=cfg.barX;
      cfg.bars[r].forEach(function(c,j){
        if(!c) return;
        R(g,'gene-count-bar',cx,yy+.4,c*cfg.barScale,rh-.8,barColors[j]);
        cx+=c*cfg.barScale;
      });
    });
    L(g,'sample-count-axis',cfg.barX,299,cfg.barX+cfg.barMax*cfg.barScale,299,'#444',.4);
    T(g,'sample-count-min',cfg.barX,293.5,'0',3.6,{anchor:'middle',fill:'#333'});
    T(g,'sample-count-max',cfg.barX+cfg.barMax*cfg.barScale,293.5,String(cfg.barMax),3.6,{anchor:'middle',fill:'#333'});
    T(g,'sample-count-title',cfg.barX+cfg.barMax*cfg.barScale/2,298,'No. of samples',3.8,{anchor:'middle',fill:'#333'});
    R(g,'risk-annotation-bar',gx,445,gw,12,cfg.riskColor);
    T(g,'risk-annotation-label',cfg.x1+2.5,453.5,'Risk',6,{fill:'#333'});
    cfg.legend.forEach(function(it){
      R(g,'mutation-legend-swatch',it[0]-1.2,it[1]-1.2,2.4,2.4,it[3]);
      T(g,'mutation-legend-label',it[0]+4.5,it[1]+2,it[2],5.7,{fill:'#333'});
    });
    T(g,'risk-legend-title',cfg.riskX,465,'Risk',5.7,{fill:'#333'});
    R(g,'risk-legend-high-swatch',cfg.riskX+3,471,2.4,2.4,'#ff0000');
    T(g,'risk-legend-high-label',cfg.riskX+10,474.5,'high',5.7,{fill:'#333'});
    R(g,'risk-legend-low-swatch',cfg.riskX+3,478,2.4,2.4,'#0000ff');
    T(g,'risk-legend-low-label',cfg.riskX+10,481,'low',5.7,{fill:'#333'});
  }
  onco({x0:309,x1:465.3,samples:138,title:'Altered in 118 (85.51%) of 138 samples.',titleX:406.7,tmb:leftTmb,tmbMax:'3682',mut:leftMut,pct:leftPct,bars:leftBars,barX:481.7,barScale:.764,barMax:58,riskColor:'#ff0000',riskX:419,
    legend:[[289.3,463.3,'Missense_Mutation','#33a02c'],[289.3,470,'Frame_Shift_Del','#1f78b4'],[289.3,476.7,'Nonsense_Mutation','#e31a1c'],[350,463.3,'In_Frame_Del','#ffff99'],[350,470,'Frame_Shift_Ins','#6a3d9a'],[350,476.7,'Multi_Hit','#000']]});
  onco({x0:578,x1:734,samples:164,title:'Altered in 152 (92.68%) of 164 samples.',titleX:675,tmb:rightTmb,tmbMax:'5842',mut:rightMut,pct:rightPct,bars:rightBars,barX:750.7,barScale:.479,barMax:93,riskColor:'#0000ff',riskX:687.7,
    legend:[[557.7,463.3,'Missense_Mutation','#33a02c'],[557.7,470,'Frame_Shift_Del','#1f78b4'],[557.7,476.7,'In_Frame_Del','#ffff99'],[619.3,463.3,'Nonsense_Mutation','#e31a1c'],[619.3,470,'Frame_Shift_Ins','#6a3d9a'],[619.3,476.7,'Multi_Hit','#000']]});
})();

/* ---------- shared box plot ---------- */
function boxPlot(g,name,x0,x1,st,y,fill,out,stroke,medCol){
  const cx=(x0+x1)/2;
  L(g,name+'-whisker',cx,y(st[0]),cx,y(st[4]),stroke||'#555',.9);
  R(g,name+'-box',x0,y(st[3]),x1-x0,y(st[1])-y(st[3]),fill,stroke||'#555',.8);
  L(g,name+'-median',x0,y(st[2]),x1,y(st[2]),medCol||'#111',1.3);
  (out||[]).forEach(function(v){
    S(g,name+'-outlier','circle',{cx:cx,cy:y(v),r:1.1,fill:'#000'});
  });
}
function bracket(g,name,x0,x1,yy,label,size){
  S(g,name,'polyline',{points:x0+','+(yy+2)+' '+x0+','+yy+' '+x1+','+yy+' '+x1+','+(yy+2),fill:'none',stroke:'#777','stroke-width':.7});
  T(g,name+'-label',(x0+x1)/2,yy-1.2,label,size||5.6,{anchor:'middle',fill:'#333'});
}

/* ---------- Panel D ---------- */
(function(){
  const g=$('pD');
  const x=lin(1,2,71.7,117), y=lin(0,40,628.7,521.3);
  R(g,'scatter-frame',33.3,510,150,139.3,'#fff','#bdbdbd',1);
  [1,2,3].forEach(function(t){L(g,'scatter-grid-x',x(t),510,x(t),649.3,'#efefef',.6);});
  [0,10,20,30,40].forEach(function(t){L(g,'scatter-grid-y',33.3,y(t),183.3,y(t),'#efefef',.6);});
  const bandUp=tmbBandX.map(function(v,i){return x(v)+','+y(tmbBandHigh[i]);});
  const bandDn=tmbBandX.map(function(v,i){return x(v)+','+y(tmbBandLow[i]);}).reverse();
  S(g,'regression-confidence-band','polygon',{points:bandUp.concat(bandDn).join(' '),fill:'#d6d6d6'});
  tmbBlue.forEach(function(p){
    S(g,'cluster-a-point','circle',{cx:x(p[0]),cy:y(p[1]),r:1.25,fill:'#1a6cf0'});
  });
  tmbOrange.forEach(function(p){
    S(g,'cluster-b-point','circle',{cx:x(p[0]),cy:y(p[1]),r:1.25,fill:'#f59c1c'});
  });
  L(g,'regression-line',x(tmbRegX[0]),y(tmbRegY[0]),x(tmbRegX[1]),y(tmbRegY[1]),'#3a6fe8',1);
  T(g,'correlation-annotation',40,522.5,'R = \u22120.29, p = 2.9e\u221207',5,{fill:'#333'});
  [0,10,20,30,40].forEach(function(t){T(g,'scatter-y-tick-label',31.5,y(t)+1.7,String(t),4.6,{anchor:'end'});});
  [1,2,3].forEach(function(t){T(g,'scatter-x-tick-label',x(t),654.5,String(t),4.6,{anchor:'middle'});});
  T(g,'scatter-x-axis-title',109,661,'Risk score',5.2,{anchor:'middle',fill:'#333'});
  T(g,'scatter-y-axis-title',23,584,'Tumor Burden Mutation',5.2,{anchor:'middle',rot:-90,fill:'#333'});
  T(g,'gene-cluster-legend-title',193,572,'geneCluster',5.4,{fill:'#333'});
  S(g,'gene-cluster-a-key','circle',{cx:197,cy:579.5,r:1.2,fill:'#1a6cf0'});
  T(g,'gene-cluster-a-label',204,581.5,'A',4.6,{fill:'#333'});
  S(g,'gene-cluster-b-key','circle',{cx:197,cy:587.5,r:1.2,fill:'#f59c1c'});
  T(g,'gene-cluster-b-label',204,589.5,'B',4.6,{fill:'#333'});
  const yb=lin(0,40,643.7,545.7);
  L(g,'tmb-box-y-axis',248.3,531,248.3,649.3,'#444',.8);
  L(g,'tmb-box-x-axis',248.3,649.3,403,649.3,'#444',.8);
  [0,10,20,30,40].forEach(function(t){
    L(g,'tmb-box-y-tick',246,yb(t),248.3,yb(t),'#444',.6);
    T(g,'tmb-box-y-tick-label',245,yb(t)+2.2,String(t),6.2,{anchor:'end',fill:'#333'});
  });
  T(g,'tmb-box-y-axis-title',236,590,'Tumor Burden Mutation',5.6,{anchor:'middle',rot:-90,fill:'#333'});
  boxPlot(g,'tmb-box-low',266,315.7,boxTmbLow,yb,'#0a64ff',tmbOutLow);
  boxPlot(g,'tmb-box-high',336.7,386,boxTmbHigh,yb,'#ee0000',tmbOutHigh);
  T(g,'tmb-box-low-label',291,656.5,'low',6,{anchor:'middle',fill:'#333'});
  T(g,'tmb-box-high-label',361,656.5,'high',6,{anchor:'middle',fill:'#333'});
  bracket(g,'tmb-box-bracket',290.3,361.3,536.3,'2.3e\u221205',5.4);
  T(g,'tmb-box-legend-title',298,520.3,'Risk',5.6,{fill:'#333'});
  R(g,'tmb-box-legend-low',313,515,7,6,'#0a64ff','#555',.5);
  T(g,'tmb-box-legend-low-label',323,520.3,'low',5.2,{fill:'#333'});
  R(g,'tmb-box-legend-high',335,515,6.5,6,'#ee0000','#555',.5);
  T(g,'tmb-box-legend-high-label',345,520.3,'high',5.2,{fill:'#333'});
})();

/* ---------- Panel E ---------- */
(function(){
  const g=$('pE');
  const y=lin(0,1,639.3,517.3);
  function stepLookup(ts,ss,t){
    let v=ss[0];
    ts.forEach(function(q,i){if(q<=t) v=ss[i];});
    return v;
  }
  function km(x,ts,ss,cens,col,name){
    let d='M'+x(ts[0])+' '+y(ss[0]);
    for(let i=1;i<ts.length;i++) d+=' H'+x(ts[i])+' V'+y(ss[i]);
    S(g,name+'-curve','path',{d:d,fill:'none',stroke:col,'stroke-width':1.35});
    cens.forEach(function(t){
      const v=stepLookup(ts,ss,t);
      L(g,name+'-censor-v',x(t),y(v)-1.6,x(t),y(v)+1.6,col,.7);
      L(g,name+'-censor-h',x(t)-1.6,y(v),x(t)+1.6,y(v),col,.7);
    });
  }
  function axes(x,x0,x1,name,thick){
    L(g,name+'-y-axis',x0,513,x0,645,thick?'#bbb':'#555',thick?1.6:.8);
    L(g,name+'-x-axis',x0,645,x1,645,'#555',.8);
    kmTicks.forEach(function(t){
      L(g,name+'-y-tick',x0-1.5,y(t),x0,y(t),'#555',.5);
      T(g,name+'-y-tick-label',x0-2.5,y(t)+1.8,t.toFixed(2),4.9,{anchor:'end',fill:'#333'});
    });
    yearTicks.forEach(function(t){
      L(g,name+'-x-tick',x(t),645,x(t),646.5,'#555',.5);
      T(g,name+'-x-tick-label',x(t),651.5,String(t),4.9,{anchor:'middle',fill:'#333'});
    });
    T(g,name+'-x-axis-title',x(5),658,'Time(years)',5.8,{anchor:'middle',fill:'#333'});
    T(g,name+'-y-axis-title',x0-15.5,y(.5),'Survival probability',5.6,{anchor:'middle',rot:-90,fill:'#333'});
  }
  const x1=lin(0,10,446,584);
  axes(x1,439.3,590,'km-left');
  km(x1,lTmbTime,lTmbSurv,lTmbCensor,'#2070f0','km-l-tmb');
  km(x1,hTmbTime,hTmbSurv,hTmbCensor,'#f01818','km-h-tmb');
  L(g,'km-left-median-line',x1(0),y(.5),x1(2.85),y(.5),'#333',.6,'2 1.5');
  [1.7,2.85].forEach(function(t){L(g,'km-left-median-drop',x1(t),y(.5),x1(t),y(0),'#333',.6,'2 1.5');});
  T(g,'km-left-p-value',449,618,'p=0.030',7,{fill:'#222'});
  L(g,'km-left-legend-h-line',548,537,556,537,'#f01818',1.3);
  T(g,'km-left-legend-h-label',558,539,'H\u2212TMB',4.6,{fill:'#333'});
  L(g,'km-left-legend-l-line',548,545,556,545,'#2070f0',1.3);
  T(g,'km-left-legend-l-label',558,547,'L\u2212TMB',4.6,{fill:'#333'});
  const x2=lin(0,10,635.7,773.3);
  axes(x2,629,780,'km-right',true);
  km(x2,lLowTime,lLowSurv,lLowCensor,'#7ccf6a','km-l-low');
  km(x2,hLowTime,hLowSurv,hLowCensor,'#2070f0','km-h-low');
  km(x2,hHighTime,hHighSurv,hHighCensor,'#f01818','km-h-high');
  km(x2,lHighTime,lHighSurv,lHighCensor,'#7a5aa8','km-l-high');
  L(g,'km-right-median-line',x2(0),y(.5),x2(4.65),y(.5),'#333',.6,'2 1.5');
  [1.45,1.72,3.15,4.65].forEach(function(t){L(g,'km-right-median-drop',x2(t),y(.5),x2(t),y(0),'#333',.6,'2 1.5');});
  T(g,'km-right-p-value',638,618,'p=0.008',7,{fill:'#222'});
  [['H\u2212TMB+high risk','#f01818',529.3],['H\u2212TMB+low risk','#2070f0',537.5],['L\u2212TMB+high risk','#7a5aa8',545],['L\u2212TMB+low risk','#7ccf6a',553]].forEach(function(it){
    L(g,'km-right-legend-line',728.3,it[2],736,it[2],it[1],1.3);
    T(g,'km-right-legend-label',738,it[2]+1.8,it[0],4.4,{fill:'#333'});
  });
})();

/* ---------- Panel F ---------- */
(function(){
  const g=$('pF');
  const y=lin(1,3,818,730.7);
  L(g,'ttn-y-axis',26.7,729,26.7,854,'#444',.8);
  L(g,'ttn-x-axis',26.7,854,193,854,'#444',.8);
  riskTicks.forEach(function(t){
    L(g,'ttn-y-tick',24.5,y(t),26.7,y(t),'#444',.6);
    T(g,'ttn-y-tick-label',23.5,y(t)+2.5,String(t),6.8,{anchor:'end',fill:'#333'});
  });
  T(g,'ttn-y-axis-title',17.5,797,'Risk score',6.2,{anchor:'middle',rot:-90,fill:'#333'});
  boxPlot(g,'ttn-wild-box',45.3,99.3,boxWild,y,'#00e600',wildOut,'#666','#134a13');
  boxPlot(g,'ttn-mutation-box',121.7,175.3,boxMutation,y,'#ee0000',mutationOut,'#666','#6e0000');
  T(g,'ttn-wild-label',72.5,862,'TTN Wild',6.2,{anchor:'middle',fill:'#333'});
  T(g,'ttn-mutation-label',148.5,862,'TTN Mutation',6.2,{anchor:'middle',fill:'#333'});
  bracket(g,'ttn-bracket',72.5,148.5,735,'0.0039',5.4);
  R(g,'ttn-legend-wild',72.3,713,7.4,5.6,'#00e600','#555',.5);
  T(g,'ttn-legend-wild-label',84,718,'TTN Wild',5.2,{fill:'#333'});
  R(g,'ttn-legend-mutation',109.7,713,7.4,5.6,'#ee0000','#555',.5);
  T(g,'ttn-legend-mutation-label',121,718,'TTN Mutation',5.2,{fill:'#333'});
})();

/* ---------- Panel G ---------- */
(function(){
  const g=$('pG');
  const y=lin(0,100,852.3,714.7);
  R(g,'msi-stack-frame',268.3,708,80.4,151,'#fff','#cfcfcf',1);
  percentTicks.forEach(function(t){
    L(g,'msi-stack-grid',268.3,y(t),348.7,y(t),'#f0f0f0',.6);
    T(g,'msi-stack-y-tick-label',266,y(t)+1.5,String(t),3.9,{anchor:'end'});
  });
  const xs=[277.7,314.3];
  msiGroups.forEach(function(name,i){
    const w=25.5;
    let b=0;
    [[msiH[i],'#ff9a0a'],[msiL[i],'#ff0000'],[msiS[i],'#0a64ff']].forEach(function(seg){
      R(g,'msi-stack-segment',xs[i],y(b+seg[0]),w,y(b)-y(b+seg[0]),seg[1]);
      T(g,'msi-stack-percent',xs[i]+w/2,y(b+seg[0]*.5)+1.5,Math.round(seg[0])+'%',4,{anchor:'middle',fill:'#222'});
      b+=seg[0];
    });
    T(g,'msi-stack-x-label',xs[i]+w/2,865,name,4.2,{anchor:'middle'});
  });
  T(g,'msi-stack-x-axis-title',308.5,870,'riskScore',4.9,{anchor:'middle',fill:'#333'});
  T(g,'msi-stack-y-axis-title',256,783,'Percent weight',4.9,{anchor:'middle',rot:-90,fill:'#333'});
  T(g,'msi-stack-legend-title',357,772,'MSI',5,{fill:'#333'});
  [['MSS','#0a64ff',775],['MSI\u2212L','#ff0000',783],['MSI\u2212H','#ff9a0a',791]].forEach(function(it){
    R(g,'msi-stack-legend-swatch',357,it[2],8,8,it[1]);
    T(g,'msi-stack-legend-label',367,it[2]+5.5,it[0],4,{fill:'#333'});
  });
  const y2=lin(1,4,828.3,741.7);
  L(g,'msi-box-y-axis',442.7,730,442.7,854,'#444',.8);
  L(g,'msi-box-x-axis',442.7,854,572,854,'#444',.8);
  msiRiskTicks.forEach(function(t){
    L(g,'msi-box-y-tick',440.5,y2(t),442.7,y2(t),'#444',.6);
    T(g,'msi-box-y-tick-label',439,y2(t)+2.3,String(t),6.2,{anchor:'end',fill:'#333'});
  });
  T(g,'msi-box-y-axis-title',433,792,'Risk score',5.6,{anchor:'middle',rot:-90,fill:'#333'});
  boxPlot(g,'mss-box',453,482,boxMss,y2,'#0a64ff',mssOut);
  boxPlot(g,'msi-l-box',493.3,522,boxMsiL,y2,'#ff0000',msiLOut);
  boxPlot(g,'msi-h-box',534,562.7,boxMsiH,y2,'#ff9a0a',[]);
  T(g,'mss-label',467.5,862,'MSS',6,{anchor:'middle',fill:'#333'});
  T(g,'msi-l-label',507.7,862,'MSI\u2212L',6,{anchor:'middle',fill:'#333'});
  T(g,'msi-h-label',548.3,862,'MSI\u2212H',6,{anchor:'middle',fill:'#333'});
  bracket(g,'msi-bracket-024',467.7,507.7,756.3,'0.24',5.2);
  bracket(g,'msi-bracket-0013',467.7,548.3,746.3,'0.013',5.2);
  bracket(g,'msi-bracket-039',507.7,548.3,735.3,'0.39',5.2);
  T(g,'msi-box-legend-title',458,718.5,'MSI',5.6,{fill:'#333'});
  [['MSS','#0a64ff',473.3,485],['MSI\u2212L','#ff0000',500,511],['MSI\u2212H','#ff9a0a',530.3,541]].forEach(function(it){
    R(g,'msi-box-legend-swatch',it[2],713,7.4,6,it[1],'#555',.5);
    T(g,'msi-box-legend-label',it[3],718.5,it[0],5,{fill:'#333'});
  });
})();

/* ---------- Panel H ---------- */
(function(){
  const g=$('pH');
  const x=lin(1,3,676,766.3), y=lin(0,.6,852.3,753);
  const dx=lin(0,riskDensity.length-1,645,765), dy=lin(0,1,729,706);
  const top=riskDensity.map(function(v,i){return dx(i).toFixed(1)+','+dy(v).toFixed(1);});
  S(g,'risk-score-density','polygon',{points:'645,729 '+top.join(' ')+' 765,729',fill:'#ffa500',stroke:'#555','stroke-width':.4});
  const ry=lin(0,rnaDensity.length-1,745,837), rx=lin(0,1,771.7,796);
  const side=rnaDensity.map(function(v,i){return rx(v).toFixed(1)+','+ry(i).toFixed(1);});
  S(g,'rnass-density','polygon',{points:side.join(' '),fill:'#0000f0'});
  R(g,'rnass-scatter-frame',639.3,730.7,131,127.6,'#fff','#cfcfcf',1.4);
  [1,2,3].forEach(function(t){L(g,'rnass-grid-x',x(t),730.7,x(t),858.3,'#f0f0f0',.6);});
  [0,.2,.4,.6].forEach(function(t){L(g,'rnass-grid-y',639.3,y(t),770.3,y(t),'#f0f0f0',.6);});
  const up=rnaBandX.map(function(v,i){return x(v)+','+y(rnaBandHigh[i]);});
  const dn=rnaBandX.map(function(v,i){return x(v)+','+y(rnaBandLow[i]);}).reverse();
  S(g,'rnass-confidence-band','polygon',{points:up.concat(dn).join(' '),fill:'#d0d0d0'});
  rnaPoints.forEach(function(p){
    S(g,'rnass-point','circle',{cx:x(p[0]),cy:y(p[1]),r:1.05,fill:'#000'});
  });
  L(g,'rnass-regression-line',x(rnaRegX[0]),y(rnaRegY[0]),x(rnaRegX[1]),y(rnaRegY[1]),'#3a6fe8',1);
  T(g,'rnass-correlation-annotation',645.5,742,'R = \u22120.67, p < 2.2e\u221216',4.9,{fill:'#333'});
  [0,.2,.4,.6].forEach(function(t){T(g,'rnass-y-tick-label',637.5,y(t)+1.5,t.toFixed(1),4,{anchor:'end'});});
  [1,2,3].forEach(function(t){T(g,'rnass-x-tick-label',x(t),864,String(t),4.2,{anchor:'middle'});});
  T(g,'rnass-x-axis-title',704.5,869.5,'Risk score',4.9,{anchor:'middle',fill:'#333'});
  T(g,'rnass-y-axis-title',629,794,'RNAss',4.9,{anchor:'middle',rot:-90,fill:'#333'});
})();
</script>
</body>
</html>
